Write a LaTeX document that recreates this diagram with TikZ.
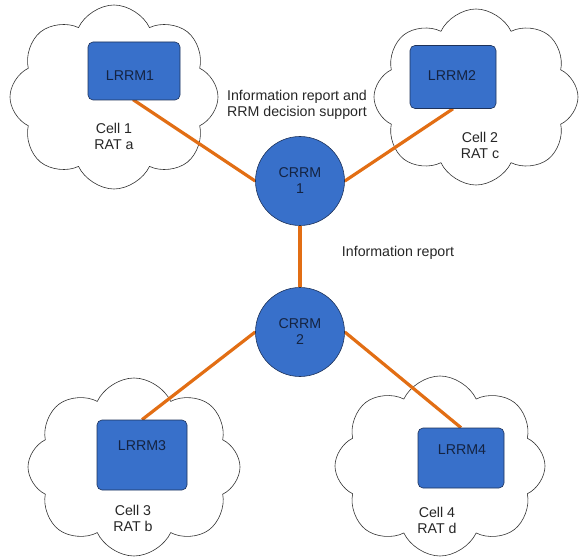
\documentclass[tikz,border=0pt]{standalone}
\usepackage{fontspec}
\setmainfont{Liberation Sans}
\usetikzlibrary{shapes.symbols}
\definecolor{boxblue}{RGB}{56,112,202}
\definecolor{boxedge}{RGB}{30,50,90}
\definecolor{linkorange}{RGB}{226,110,20}
\definecolor{navytext}{RGB}{20,35,65}
\pgfdeclarelayer{cloudlayer}
\pgfdeclarelayer{linklayer}
\pgfsetlayers{cloudlayer,linklayer,main}
\begin{document}
\begin{tikzpicture}[x=1pt,y=-1pt,
  every node/.style={font=\fontsize{14.2}{16}\selectfont, text=black!85},
  cellcloud/.style={cloud, cloud puffs=8, cloud puff arc=130, aspect=1.15, draw=black!80, line width=0.6pt, fill=white, inner sep=0pt},
  lrrm/.style={draw=boxedge, line width=0.6pt, fill=boxblue, rounded corners=5pt, inner sep=0pt},
  crrm/.style={circle, draw=boxedge, line width=0.6pt, fill=boxblue, minimum size=89pt, inner sep=0pt, align=center, text=navytext},
  link/.style={draw=linkorange, line width=3.2pt},
  lbl/.style={align=center, inner sep=0pt}
]
\useasboundingbox (0,0) rectangle (579,559);
% clouds
\begin{pgfonlayer}{cloudlayer}
\node[cellcloud, minimum width=208pt, minimum height=184pt] (cl1) at (114,97) {};
\node[cellcloud, minimum width=204pt, minimum height=176pt] (cl2) at (476,97) {};
\node[cellcloud, minimum width=212pt, minimum height=178pt] (cl3) at (134,467) {};
\node[cellcloud, minimum width=210pt, minimum height=180pt] (cl4) at (440,466) {};
\end{pgfonlayer}
% boxes
\node[lrrm, minimum width=92pt, minimum height=58pt] (b1) at (134,71) {};
\node[lrrm, minimum width=86pt, minimum height=63pt] (b2) at (453,77) {};
\node[lrrm, minimum width=90pt, minimum height=70pt] (b3) at (142,455) {};
\node[lrrm, minimum width=86pt, minimum height=60pt] (b4) at (461,458) {};
% circles
\node[crrm] (c1) at (300,181) {CRRM\\1};
\node[crrm] (c2) at (300,332) {CRRM\\2};
% connectors
\begin{pgfonlayer}{linklayer}
\draw[link] (b1.center) -- (b1.south) -- (c1.west);
\draw[link] (c1.east) -- (b2.south);
\draw[link] (c1.south) -- (c2.north);
\draw[link] (c2.west) -- (b3.north);
\draw[link] (c2.east) -- (b4.north);
\end{pgfonlayer}
% box texts
\node[lbl, text=navytext] (t1) at (130,76) {LRRM1};
\node[lbl, text=navytext] (t2) at (452,76) {LRRM2};
\node[lbl, text=navytext] (t3) at (142,446) {LRRM3};
\node[lbl, text=navytext] (t4) at (462,450) {LRRM4};
% cell texts
\node[lbl] (cell1) at (114,136) {Cell 1\\RAT a};
\node[lbl] (cell2) at (480,145) {Cell 2\\RAT c};
\node[lbl] (cell3) at (133,518) {Cell 3\\RAT b};
\node[lbl] (cell4) at (437,520) {Cell 4\\RAT d};
% link labels
\node[lbl] (lab1) at (297,105) {Information report and\\RRM decision support};
\node[lbl] (lab2) at (398,253) {Information report};
\end{tikzpicture}
\end{document}
